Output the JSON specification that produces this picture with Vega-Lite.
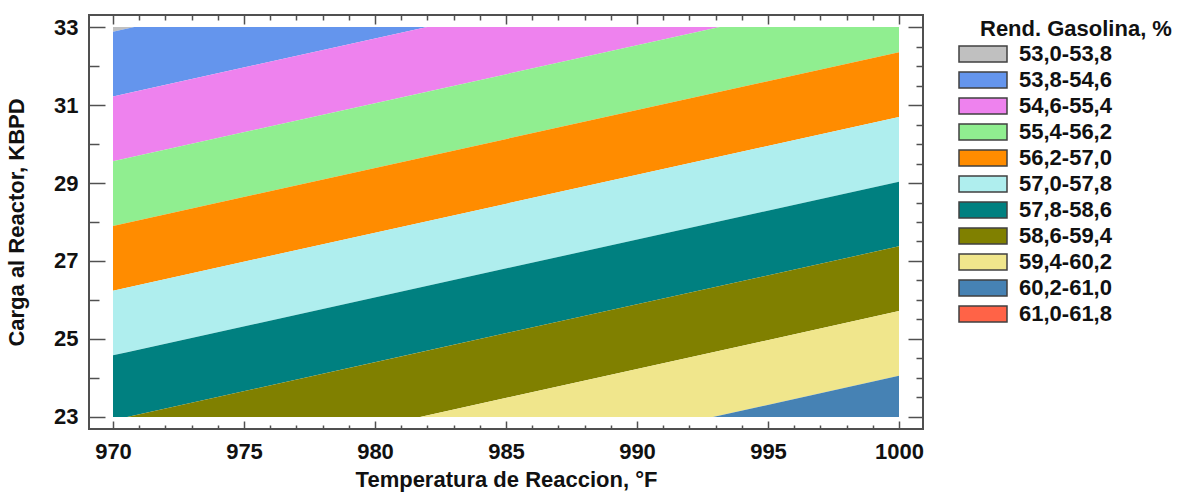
{
  "$schema": "https://vega.github.io/schema/vega-lite/v6.json",
  "autosize": "none",
  "padding": {"left": 89, "top": 15, "right": 256, "bottom": 63},
  "width": 834,
  "height": 414,
  "config": {
    "view": {"stroke": "#505050", "strokeWidth": 2},
    "font": "Liberation Sans",
    "axis": {
      "domain": false,
      "grid": false,
      "tickColor": "#505050",
      "tickWidth": 1.5,
      "labelFont": "Liberation Sans",
      "labelFontWeight": "bold",
      "labelFontSize": 22,
      "labelColor": "#111111",
      "titleFont": "Liberation Sans",
      "titleFontWeight": "bold",
      "titleFontSize": 22,
      "titleColor": "#111111"
    }
  },
  "data": {
    "values": [
      {"band": "53,0-53,8", "T": 970, "top": 33, "bottom": 32.88},
      {"band": "53,0-53,8", "T": 970.81, "top": 33, "bottom": 33},
      {"band": "53,8-54,6", "T": 970, "top": 32.88, "bottom": 31.22},
      {"band": "53,8-54,6", "T": 970.81, "top": 33, "bottom": 31.34},
      {"band": "53,8-54,6", "T": 981.99, "top": 33, "bottom": 33},
      {"band": "54,6-55,4", "T": 970, "top": 31.22, "bottom": 29.56},
      {"band": "54,6-55,4", "T": 981.99, "top": 33, "bottom": 31.34},
      {"band": "54,6-55,4", "T": 993.16, "top": 33, "bottom": 33},
      {"band": "55,4-56,2", "T": 970, "top": 29.56, "bottom": 27.9},
      {"band": "55,4-56,2", "T": 993.16, "top": 33, "bottom": 31.34},
      {"band": "55,4-56,2", "T": 1000, "top": 33, "bottom": 32.355},
      {"band": "56,2-57,0", "T": 970, "top": 27.9, "bottom": 26.24},
      {"band": "56,2-57,0", "T": 1000, "top": 32.355, "bottom": 30.695},
      {"band": "57,0-57,8", "T": 970, "top": 26.24, "bottom": 24.58},
      {"band": "57,0-57,8", "T": 1000, "top": 30.695, "bottom": 29.035},
      {"band": "57,8-58,6", "T": 970, "top": 24.58, "bottom": 23},
      {"band": "57,8-58,6", "T": 970.54, "top": 24.66, "bottom": 23},
      {"band": "57,8-58,6", "T": 1000, "top": 29.035, "bottom": 27.375},
      {"band": "58,6-59,4", "T": 970.54, "top": 23, "bottom": 23},
      {"band": "58,6-59,4", "T": 981.72, "top": 24.66, "bottom": 23},
      {"band": "58,6-59,4", "T": 1000, "top": 27.375, "bottom": 25.715},
      {"band": "59,4-60,2", "T": 981.72, "top": 23, "bottom": 23},
      {"band": "59,4-60,2", "T": 992.9, "top": 24.66, "bottom": 23},
      {"band": "59,4-60,2", "T": 1000, "top": 25.715, "bottom": 24.055},
      {"band": "60,2-61,0", "T": 992.9, "top": 23, "bottom": 23},
      {"band": "60,2-61,0", "T": 1000, "top": 24.055, "bottom": 23}
    ]
  },
  "layer": [
    {
      "mark": {"type": "area", "opacity": 1},
      "encoding": {
        "x": {
          "field": "T", "type": "quantitative",
          "scale": {"domain": [969.084, 1000.916], "nice": false, "zero": false},
          "axis": {
            "orient": "bottom",
            "title": "Temperatura de Reaccion, °F",
            "format": "d",
            "values": [970,971,972,973,974,975,976,977,978,979,980,981,982,983,984,985,986,987,988,989,990,991,992,993,994,995,996,997,998,999,1000],
            "labelExpr": "datum.value % 5 === 0 ? datum.label : ''",
            "tickSize": {"condition": {"test": "datum.value % 5 === 0", "value": -8}, "value": -4},
            "labelPadding": 20,
            "titlePadding": 7
          }
        },
        "y": {
          "field": "top", "type": "quantitative",
          "scale": {"domain": [22.692, 33.308], "nice": false, "zero": false},
          "axis": {
            "orient": "left",
            "title": "Carga al Reactor, KBPD",
            "format": "d",
            "values": [23,23.5,24,24.5,25,25.5,26,26.5,27,27.5,28,28.5,29,29.5,30,30.5,31,31.5,32,32.5,33],
            "labelExpr": "datum.value % 2 === 1 ? datum.label : ''",
            "tickSize": {"condition": {"test": "datum.value % 2 === 1", "value": -16}, "value": -10},
            "labelPadding": 27,
            "titlePadding": 25
          }
        },
        "y2": {"field": "bottom"},
        "color": {
          "field": "band", "type": "nominal",
          "scale": {
            "domain": ["53,0-53,8","53,8-54,6","54,6-55,4","55,4-56,2","56,2-57,0","57,0-57,8","57,8-58,6","58,6-59,4","59,4-60,2","60,2-61,0","61,0-61,8"],
            "range": ["#C0C0C0","#6495ED","#EE82EE","#90EE90","#FF8C00","#AFEEEE","#008080","#808000","#F0E68C","#4682B4","#FF6347"]
          },
          "legend": {
            "title": "Rend. Gasolina, %",
            "orient": "right",
            "offset": 52,
            "padding": 4,
            "titleFont": "Liberation Sans",
            "titleFontSize": 22,
            "titleFontWeight": "bold",
            "titleColor": "#111111",
            "titlePadding": 2,
            "titleLimit": 400,
            "labelFont": "Liberation Sans",
            "labelFontSize": 22,
            "labelFontWeight": "bold",
            "labelColor": "#111111",
            "labelLimit": 300,
            "symbolType": "M-4,-1H2V1H-4Z",
            "symbolSize": 256,
            "symbolStrokeColor": "#404040",
            "symbolStrokeWidth": 1.5,
            "symbolOpacity": 1,
            "labelOffset": 17,
            "rowPadding": 4
          }
        }
      }
    },
    {
      "mark": {"type": "area", "opacity": 0},
      "encoding": {
        "x": {
          "field": "T", "type": "quantitative",
          "axis": {
            "orient": "top",
            "title": null,
            "labels": false,
            "values": [970,971,972,973,974,975,976,977,978,979,980,981,982,983,984,985,986,987,988,989,990,991,992,993,994,995,996,997,998,999,1000],
            "tickSize": {"condition": {"test": "datum.value % 5 === 0", "value": -9}, "value": -5}
          }
        },
        "y": {
          "field": "top", "type": "quantitative",
          "axis": {
            "orient": "right",
            "title": null,
            "labels": false,
            "values": [23,23.5,24,24.5,25,25.5,26,26.5,27,27.5,28,28.5,29,29.5,30,30.5,31,31.5,32,32.5,33],
            "tickSize": {"condition": {"test": "datum.value % 2 === 1", "value": -15}, "value": -7}
          }
        },
        "y2": {"field": "bottom"}
      }
    }
  ],
  "resolve": {"axis": {"x": "independent", "y": "independent"}}
}
